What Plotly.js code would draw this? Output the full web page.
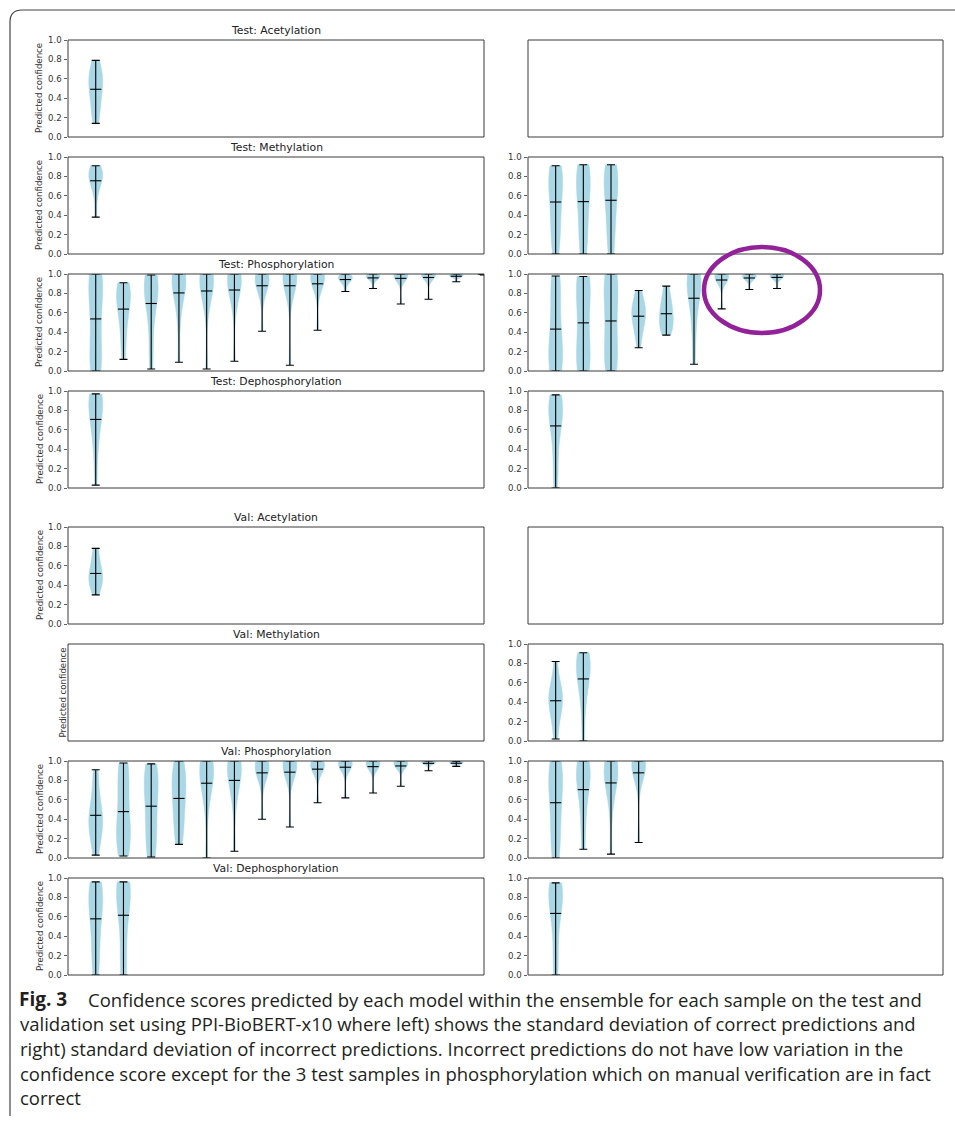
<!DOCTYPE html>
<html>
<head>
<meta charset="utf-8">
<script src="https://cdn.plot.ly/plotly-3.0.1.min.js"></script>
<style>
html,body{margin:0;padding:0;background:#fff;}
#chart{width:955px;height:1122px;}
</style>
</head>
<body>
<div id="chart"></div>
<script>
// ---------- DATA (each violin = confidence scores of the 10 ensemble models for one sample) ----------
const panelTitles = ["Test: Acetylation", "Test: Methylation", "Test: Phosphorylation", "Test: Dephosphorylation",
                     "Val: Acetylation", "Val: Methylation", "Val: Phosphorylation", "Val: Dephosphorylation"];
const yTickVals = [0, 0.2, 0.4, 0.6, 0.8, 1.0];
const yTickText = ["0.0", "0.2", "0.4", "0.6", "0.8", "1.0"];
const yLabel = "Predicted confidence";

// left column: correct predictions
const testAcetylationCorrect = [
  [0.14, 0.25, 0.33, 0.42, 0.50, 0.55, 0.60, 0.64, 0.70, 0.79]
];
const testMethylationCorrect = [
  [0.38, 0.62, 0.72, 0.76, 0.79, 0.81, 0.83, 0.85, 0.88, 0.91]
];
const testPhosphorylationCorrect = [
  [0.00, 0.03, 0.10, 0.25, 0.50, 0.70, 0.85, 0.95, 0.99, 1.00],
  [0.12, 0.30, 0.50, 0.58, 0.70, 0.75, 0.80, 0.84, 0.88, 0.91],
  [0.02, 0.25, 0.55, 0.72, 0.80, 0.85, 0.89, 0.93, 0.96, 0.99],
  [0.09, 0.55, 0.75, 0.88, 0.91, 0.94, 0.96, 0.98, 0.99, 1.00],
  [0.02, 0.68, 0.82, 0.88, 0.95, 0.96, 0.97, 0.98, 0.99, 1.00],
  [0.10, 0.70, 0.82, 0.90, 0.93, 0.96, 0.97, 0.98, 0.99, 1.00],
  [0.41, 0.78, 0.85, 0.90, 0.95, 0.96, 0.97, 0.98, 0.99, 1.00],
  [0.06, 0.92, 0.94, 0.96, 0.97, 0.98, 0.98, 0.99, 0.99, 1.00],
  [0.42, 0.83, 0.90, 0.95, 0.96, 0.97, 0.98, 0.99, 0.99, 1.00],
  [0.82, 0.90, 0.92, 0.94, 0.95, 0.96, 0.97, 0.98, 0.99, 1.00],
  [0.85, 0.93, 0.95, 0.96, 0.97, 0.98, 0.98, 0.99, 0.99, 1.00],
  [0.69, 0.96, 0.97, 0.98, 0.98, 0.99, 0.99, 0.99, 1.00, 1.00],
  [0.74, 0.97, 0.98, 0.98, 0.99, 0.99, 0.99, 1.00, 1.00, 1.00],
  [0.92, 0.96, 0.97, 0.98, 0.98, 0.98, 0.99, 0.99, 1.00, 1.00],
  [0.99, 0.99, 0.99, 0.995, 0.995, 0.995, 1.00, 1.00, 1.00, 1.00]
];
const testDephosphorylationCorrect = [
  [0.03, 0.40, 0.55, 0.70, 0.78, 0.86, 0.90, 0.93, 0.95, 0.97]
];
const valAcetylationCorrect = [
  [0.30, 0.38, 0.42, 0.45, 0.48, 0.52, 0.56, 0.62, 0.70, 0.78]
];
const valMethylationCorrect = [];
const valPhosphorylationCorrect = [
  [0.03, 0.18, 0.28, 0.34, 0.38, 0.42, 0.48, 0.58, 0.80, 0.91],
  [0.02, 0.10, 0.18, 0.28, 0.35, 0.45, 0.70, 0.82, 0.90, 0.98],
  [0.01, 0.08, 0.25, 0.35, 0.50, 0.68, 0.76, 0.84, 0.90, 0.97],
  [0.14, 0.25, 0.38, 0.50, 0.60, 0.70, 0.78, 0.86, 0.93, 1.00],
  [0.00, 0.55, 0.70, 0.80, 0.86, 0.90, 0.94, 0.97, 0.99, 1.00],
  [0.07, 0.60, 0.72, 0.85, 0.90, 0.93, 0.96, 0.98, 0.99, 1.00],
  [0.40, 0.80, 0.86, 0.90, 0.93, 0.95, 0.97, 0.98, 0.99, 1.00],
  [0.32, 0.85, 0.90, 0.93, 0.95, 0.96, 0.97, 0.98, 0.99, 1.00],
  [0.57, 0.88, 0.92, 0.94, 0.95, 0.96, 0.97, 0.98, 0.99, 1.00],
  [0.62, 0.93, 0.95, 0.96, 0.97, 0.97, 0.98, 0.99, 0.99, 1.00],
  [0.67, 0.93, 0.95, 0.96, 0.97, 0.98, 0.98, 0.99, 0.99, 1.00],
  [0.74, 0.93, 0.95, 0.96, 0.97, 0.98, 0.98, 0.99, 0.99, 1.00],
  [0.90, 0.96, 0.97, 0.98, 0.98, 0.99, 0.99, 0.99, 1.00, 1.00],
  [0.945, 0.96, 0.97, 0.975, 0.98, 0.98, 0.985, 0.99, 0.99, 0.995]
];
const valDephosphorylationCorrect = [
  [0.00, 0.12, 0.30, 0.48, 0.62, 0.72, 0.80, 0.87, 0.92, 0.96],
  [0.00, 0.05, 0.32, 0.55, 0.74, 0.82, 0.87, 0.91, 0.94, 0.96]
];

// right column: incorrect predictions
const testAcetylationIncorrect = [];
const testMethylationIncorrect = [
  [0.00, 0.15, 0.25, 0.40, 0.55, 0.65, 0.75, 0.82, 0.88, 0.91],
  [0.00, 0.12, 0.26, 0.42, 0.56, 0.66, 0.75, 0.83, 0.88, 0.92],
  [0.00, 0.15, 0.30, 0.45, 0.58, 0.67, 0.76, 0.83, 0.88, 0.92]
];
const testPhosphorylationIncorrect = [
  [0.00, 0.03, 0.08, 0.15, 0.30, 0.40, 0.60, 0.85, 0.93, 0.98],
  [0.00, 0.04, 0.10, 0.20, 0.40, 0.60, 0.80, 0.90, 0.95, 0.975],
  [0.00, 0.05, 0.12, 0.25, 0.45, 0.62, 0.80, 0.90, 0.97, 1.00],
  [0.24, 0.38, 0.46, 0.52, 0.56, 0.60, 0.64, 0.68, 0.74, 0.83],
  [0.37, 0.42, 0.46, 0.50, 0.55, 0.60, 0.65, 0.70, 0.78, 0.875],
  [0.07, 0.40, 0.60, 0.78, 0.85, 0.90, 0.94, 0.97, 0.99, 1.00],
  [0.64, 0.93, 0.95, 0.96, 0.97, 0.97, 0.98, 0.99, 0.99, 1.00],
  [0.84, 0.93, 0.95, 0.96, 0.97, 0.98, 0.98, 0.99, 0.99, 1.00],
  [0.85, 0.94, 0.96, 0.97, 0.97, 0.98, 0.99, 0.99, 1.00, 1.00]
];
const testDephosphorylationIncorrect = [
  [0.00, 0.20, 0.45, 0.66, 0.72, 0.78, 0.83, 0.88, 0.92, 0.96]
];
const valAcetylationIncorrect = [];
const valMethylationIncorrect = [
  [0.02, 0.18, 0.30, 0.36, 0.40, 0.44, 0.48, 0.55, 0.60, 0.82],
  [0.00, 0.35, 0.52, 0.62, 0.70, 0.76, 0.81, 0.85, 0.88, 0.91]
];
const valPhosphorylationIncorrect = [
  [0.00, 0.10, 0.25, 0.42, 0.58, 0.70, 0.80, 0.88, 0.97, 1.00],
  [0.09, 0.32, 0.53, 0.70, 0.78, 0.84, 0.89, 0.93, 0.97, 1.00],
  [0.04, 0.55, 0.72, 0.80, 0.86, 0.90, 0.93, 0.96, 0.98, 1.00],
  [0.16, 0.90, 0.92, 0.95, 0.95, 0.96, 0.97, 0.98, 0.99, 1.00]
];
const valDephosphorylationIncorrect = [
  [0.00, 0.15, 0.41, 0.65, 0.73, 0.80, 0.85, 0.89, 0.92, 0.95]
];

const captionLabel = "Fig. 3";
const captionLines = [
  "Confidence scores predicted by each model within the ensemble for each sample on the test and",
  "validation set using PPI-BioBERT-x10 where left) shows the standard deviation of correct predictions and",
  "right) standard deviation of incorrect predictions. Incorrect predictions do not have low variation in the",
  "confidence score except for the 3 test samples in phosphorylation which on manual verification are in fact",
  "correct"
];

// ---------- LAYOUT / STYLE ----------
const W = 955, H = 1122;
const colPx = [[68, 484], [528, 943]];
const rowPx = [[40, 137], [157, 254], [274, 371], [391, 488], [527, 624], [644, 741], [761, 858], [878, 975]];
const leftPanels = [testAcetylationCorrect, testMethylationCorrect, testPhosphorylationCorrect, testDephosphorylationCorrect,
                    valAcetylationCorrect, valMethylationCorrect, valPhosphorylationCorrect, valDephosphorylationCorrect];
const rightPanels = [testAcetylationIncorrect, testMethylationIncorrect, testPhosphorylationIncorrect, testDephosphorylationIncorrect,
                     valAcetylationIncorrect, valMethylationIncorrect, valPhosphorylationIncorrect, valDephosphorylationIncorrect];

const FONT = "DejaVu Sans, sans-serif";
const CAPFONT = "Open Sans, sans-serif";
const VIOLIN = "#a9d7e6";
const FRAME = "#3a3a3a";
const px = v => v / W, py = v => 1 - v / H;

const traces = [];
const layout = {
  width: W, height: H,
  margin: {l: 0, r: 0, t: 0, b: 0},
  paper_bgcolor: "#fff", plot_bgcolor: "#fff",
  showlegend: false,
  violinmode: "overlay",
  annotations: [], shapes: []
};

function std(a) {
  const m = a.reduce((s, v) => s + v, 0) / a.length;
  return Math.sqrt(a.reduce((s, v) => s + (v - m) * (v - m), 0) / (a.length - 1));
}

let k = 0;
for (let r = 0; r < 8; r++) {
  for (let c = 0; c < 2; c++) {
    k++;
    const data = c === 0 ? leftPanels[r] : rightPanels[r];
    const empty = data.length === 0;
    const sfx = k === 1 ? "" : String(k);
    const xr = "x" + sfx, yr = "y" + sfx;
    layout["xaxis" + sfx] = {
      domain: [px(colPx[c][0]), px(colPx[c][1])], anchor: yr,
      range: [0, 15], fixedrange: true,
      showticklabels: false, ticks: "", showgrid: false, zeroline: false,
      showline: false
    };
    layout["yaxis" + sfx] = {
      domain: [py(rowPx[r][1]), py(rowPx[r][0])], anchor: xr,
      range: [0, 1], fixedrange: true,
      tickvals: yTickVals, ticktext: yTickText,
      showticklabels: !empty, ticks: empty ? "" : "outside", ticklen: 3.5, tickwidth: 0.8, tickcolor: FRAME,
      tickfont: {family: FONT, size: 8.6, color: "#333"},
      showgrid: false, zeroline: false,
      showline: false
    };
    // axes frame (drawn for every panel, including empty ones)
    layout.shapes.push({
      type: "rect", xref: xr + " domain", yref: yr + " domain",
      x0: 0, x1: 1, y0: 0, y1: 1, layer: "above",
      line: {color: FRAME, width: 1}, fillcolor: "rgba(0,0,0,0)"
    });
    data.forEach((vals, i) => {
      const n = vals.length;
      traces.push({
        type: "violin", xaxis: xr, yaxis: yr,
        x: vals.map(() => i + 1), y: vals,
        spanmode: "hard", points: false,
        box: {visible: false}, meanline: {visible: false},
        width: 0.5, scalemode: "width",
        bandwidth: Math.max(std(vals) * Math.pow(n, -0.2), 0.002),
        fillcolor: VIOLIN, line: {color: VIOLIN, width: 0.5},
        hoverinfo: "skip"
      });
    });
    if (!empty) {
      const pos = data.map((v, i) => i + 1);
      const mins = data.map(v => Math.min(...v));
      const maxs = data.map(v => Math.max(...v));
      const means = data.map(v => v.reduce((s, x) => s + x, 0) / v.length);
      traces.push({
        type: "scatter", mode: "markers", xaxis: xr, yaxis: yr,
        x: pos, y: means,
        marker: {symbol: "line-ew", size: 8, color: "#000", line: {color: "#000", width: 1.1}},
        error_y: {type: "data", symmetric: false,
                  array: maxs.map((m, i) => m - means[i]),
                  arrayminus: means.map((m, i) => m - mins[i]),
                  color: "#000", thickness: 1.1, width: 4},
        hoverinfo: "skip"
      });
    } else {
      traces.push({type: "scatter", mode: "markers", xaxis: xr, yaxis: yr, x: [], y: [], hoverinfo: "skip"});
    }
    if (c === 0) {
      layout.annotations.push({
        text: panelTitles[r], xref: "paper", yref: "paper",
        x: px((colPx[0][0] + colPx[0][1]) / 2), y: py(rowPx[r][0]),
        xanchor: "center", yanchor: "bottom", yshift: 1, showarrow: false,
        font: {family: FONT, size: 10.8, color: "#222"}
      });
      layout.annotations.push({
        text: yLabel, xref: "paper", yref: "paper", textangle: -90,
        x: px(empty ? 62 : 39.5), y: py((rowPx[r][0] + rowPx[r][1]) / 2),
        xanchor: "center", yanchor: "middle", showarrow: false,
        font: {family: FONT, size: 8.6, color: "#333"}
      });
    }
  }
}

// caption
layout.annotations.push({
  text: "<b>" + captionLabel + "</b>", xref: "paper", yref: "paper",
  x: px(17), y: py(999), xanchor: "left", yanchor: "middle", showarrow: false,
  font: {family: CAPFONT, size: 19, color: "#231f20"}
});
captionLines.forEach((t, i) => {
  layout.annotations.push({
    text: t, xref: "paper", yref: "paper",
    x: px(i === 0 ? 86 : 18), y: py(999 + i * 24.7), xanchor: "left", yanchor: "middle",
    showarrow: false, align: "left",
    font: {family: CAPFONT, size: 18.5, color: "#231f20"}
  });
});

// figure frame (rounded top-left corner)
layout.shapes.push({
  type: "path", xref: "paper", yref: "paper",
  path: `M ${px(10)},${py(1116)} L ${px(10)},${py(22)} Q ${px(10)},${py(10)} ${px(22)},${py(10)} L ${px(955)},${py(10)}`,
  line: {color: "#444", width: 1.2}
});

// hand-drawn highlight ellipse
layout.shapes.push({
  type: "circle", xref: "paper", yref: "paper",
  x0: px(704), x1: px(820), y0: py(333), y1: py(247),
  line: {color: "#93229a", width: 4.5}
});

Plotly.newPlot("chart", traces, layout, {staticPlot: true, displayModeBar: false});
</script>
</body>
</html>
